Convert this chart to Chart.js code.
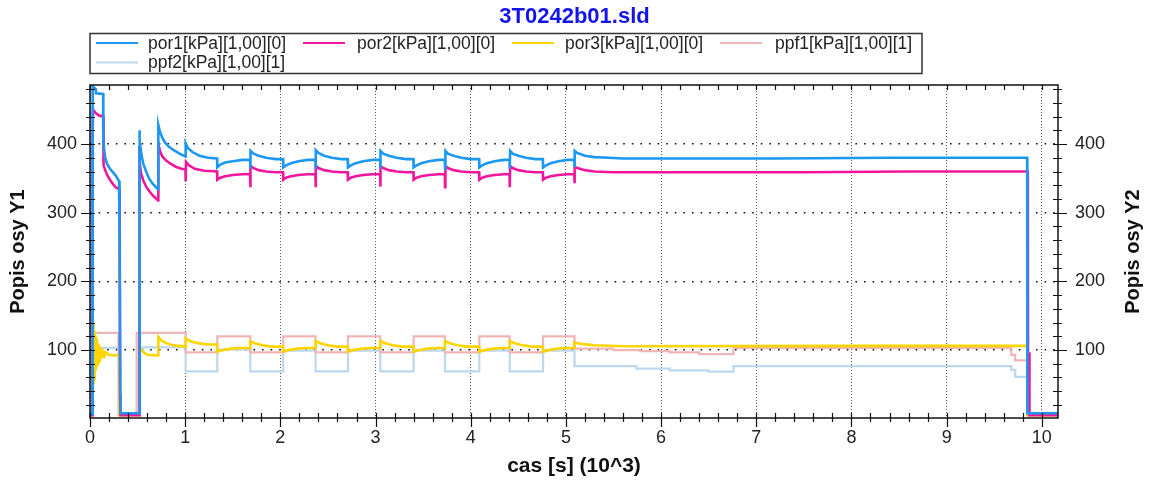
<!DOCTYPE html>
<html>
<head>
<meta charset="utf-8">
<title>3T0242b01.sld</title>
<script src="https://cdn.jsdelivr.net/npm/chart.js@4.4.1/dist/chart.umd.min.js"></script>
<style>
  html, body { margin: 0; padding: 0; background: #fff; }
  #wrap { width: 1149px; height: 482px; }
</style>
</head>
<body>
<div id="wrap"><canvas id="myChart" width="1149" height="482"></canvas></div>
<script>
// popisky
var chartTitle = '3T0242b01.sld';
var seriesNames = ['por1[kPa][1,00][0]', 'por2[kPa][1,00][0]', 'por3[kPa][1,00][0]', 'ppf1[kPa][1,00][1]', 'ppf2[kPa][1,00][1]'];
var seriesColors = ['#1c98f2', '#f2169e', '#ffd400', '#f0b6b6', '#bcd8ee'];
var xTitle = 'cas [s] (10^3)';
var y1Title = 'Popis osy Y1';
var y2Title = 'Popis osy Y2';
var xTicks = [0, 1, 2, 3, 4, 5, 6, 7, 8, 9, 10];
var yTicks = [100, 200, 300, 400];
var xRange = [0, 10.17];
var yRange = [1, 486];

// data: [cas, hodnota]
var por1 = [
  [0, 7], [0.027, 7], [0.028, 484], [0.06, 480], [0.062, 474], [0.138, 473], [0.14, 405], [0.148, 392], [0.16, 380], [0.18, 371], [0.21, 364], [0.24, 359], [0.27, 354], [0.305, 346], [0.31, 275], [0.32, 8], [0.516, 8],
  [0.518, 420], [0.525, 405], [0.54, 385], [0.56, 371], [0.59, 360], [0.62, 350], [0.66, 342], [0.716, 334],
  [0.718, 428], [0.735, 418], [0.76, 409], [0.79, 402], [0.83, 396], [0.88, 391], [0.94, 386], [1.003, 382],
  [1.005, 401], [1.03, 394], [1.08, 388], [1.15, 383], [1.24, 380], [1.335, 379],
  [1.337, 366], [1.37, 370], [1.42, 373], [1.5, 375], [1.6, 377], [1.682, 377],
  [1.684, 364], [1.688, 390], [1.72, 386], [1.77, 383], [1.85, 380], [1.95, 378], [2.028, 378],
  [2.03, 366], [2.06, 369], [2.11, 372], [2.19, 375], [2.29, 377], [2.368, 377],
  [2.37, 364], [2.374, 391], [2.4, 387], [2.46, 383], [2.54, 380], [2.64, 378], [2.708, 378],
  [2.71, 366], [2.74, 369], [2.79, 372], [2.87, 375], [2.97, 377], [3.048, 377],
  [3.05, 364], [3.054, 390], [3.08, 386], [3.14, 383], [3.22, 380], [3.32, 378], [3.398, 378],
  [3.4, 366], [3.43, 369], [3.48, 372], [3.56, 375], [3.66, 377], [3.728, 377],
  [3.73, 364], [3.734, 390], [3.76, 386], [3.82, 383], [3.9, 380], [4.0, 378], [4.088, 378],
  [4.09, 366], [4.12, 369], [4.17, 372], [4.25, 375], [4.35, 377], [4.408, 377],
  [4.41, 364], [4.414, 390], [4.44, 386], [4.5, 383], [4.58, 380], [4.68, 378], [4.758, 378],
  [4.76, 366], [4.79, 369], [4.84, 372], [4.92, 375], [5.02, 377], [5.088, 377],
  [5.09, 366], [5.094, 390], [5.12, 387], [5.2, 383], [5.3, 381], [5.45, 380], [5.6, 379], [7.2, 379], [8.4, 380], [9.846, 380], [9.848, 8], [10.17, 8]
];
var por2 = [
  [0, 5], [0.027, 5], [0.028, 418], [0.032, 450], [0.06, 445], [0.1, 441], [0.138, 441], [0.14, 382], [0.145, 369], [0.16, 362], [0.18, 355], [0.21, 348], [0.24, 342], [0.27, 337], [0.308, 334], [0.31, 272], [0.314, 272], [0.316, 36], [0.32, 36], [0.322, 5], [0.516, 5],
  [0.518, 398], [0.522, 376], [0.535, 358], [0.56, 347], [0.59, 338], [0.62, 332], [0.66, 325], [0.716, 318],
  [0.718, 401], [0.735, 390], [0.76, 382], [0.8, 376], [0.85, 371], [0.9, 367], [0.96, 364], [1.003, 363],
  [1.005, 346], [1.009, 374], [1.04, 369], [1.1, 364], [1.2, 361], [1.335, 360],
  [1.337, 348], [1.37, 351], [1.42, 353], [1.5, 355], [1.6, 356], [1.682, 356],
  [1.684, 337], [1.688, 368], [1.72, 365], [1.77, 362], [1.85, 360], [1.95, 359], [2.028, 359],
  [2.03, 348], [2.06, 351], [2.11, 353], [2.19, 355], [2.29, 356], [2.368, 356],
  [2.37, 337], [2.374, 368], [2.4, 365], [2.46, 362], [2.54, 360], [2.64, 359], [2.708, 359],
  [2.71, 348], [2.74, 351], [2.79, 353], [2.87, 355], [2.97, 356], [3.048, 356],
  [3.05, 338], [3.054, 368], [3.08, 365], [3.14, 362], [3.22, 360], [3.32, 359], [3.398, 359],
  [3.4, 348], [3.43, 351], [3.48, 353], [3.56, 355], [3.66, 356], [3.728, 356],
  [3.73, 337], [3.734, 368], [3.76, 365], [3.82, 362], [3.9, 360], [4.0, 359], [4.088, 359],
  [4.09, 348], [4.12, 351], [4.17, 353], [4.25, 355], [4.35, 356], [4.408, 356],
  [4.41, 337], [4.414, 368], [4.44, 365], [4.5, 362], [4.58, 360], [4.68, 359], [4.758, 359],
  [4.76, 348], [4.79, 351], [4.84, 353], [4.92, 355], [5.02, 356], [5.088, 356],
  [5.09, 343], [5.094, 367], [5.12, 365], [5.2, 362], [5.3, 360], [5.5, 359], [7.5, 359], [8.6, 360], [9.853, 360], [9.855, 95], [9.868, 95], [9.87, 5], [10.17, 5]
];
var por3 = [
  [0, 5], [0.024, 5], [0.025, 152], [0.028, 42], [0.032, 140], [0.036, 50], [0.04, 134], [0.044, 58], [0.048, 127], [0.052, 64], [0.056, 121], [0.06, 70], [0.064, 117], [0.068, 75],
  [0.073, 113], [0.078, 79], [0.083, 110], [0.088, 82], [0.093, 108], [0.098, 85], [0.104, 105], [0.11, 87], [0.116, 103], [0.122, 89], [0.13, 101], [0.138, 90], [0.146, 99], [0.155, 92],
  [0.17, 96], [0.2, 93], [0.25, 92], [0.308, 93], [0.31, 5], [0.518, 5],
  [0.52, 104], [0.56, 97], [0.6, 93], [0.716, 92],
  [0.718, 119], [0.75, 114], [0.8, 110], [0.87, 107], [1.003, 105],
  [1.005, 117], [1.05, 113], [1.13, 110], [1.24, 108], [1.335, 108],
  [1.337, 97.5], [1.4, 100], [1.49, 102], [1.59, 103], [1.682, 103],
  [1.684, 113], [1.73, 110], [1.81, 107], [1.91, 105], [2.028, 105],
  [2.03, 97.5], [2.09, 100], [2.18, 102], [2.28, 103], [2.368, 103],
  [2.37, 113], [2.42, 110], [2.5, 107], [2.6, 105], [2.708, 105],
  [2.71, 97.5], [2.77, 100], [2.86, 102], [2.96, 103], [3.048, 103],
  [3.05, 113], [3.1, 110], [3.18, 107], [3.28, 105], [3.398, 105],
  [3.4, 97.5], [3.46, 100], [3.55, 102], [3.65, 103], [3.728, 103],
  [3.73, 113], [3.78, 110], [3.86, 107], [3.96, 105], [4.088, 105],
  [4.09, 97.5], [4.15, 100], [4.24, 102], [4.34, 103], [4.408, 103],
  [4.41, 113], [4.46, 110], [4.54, 107], [4.64, 105], [4.758, 105],
  [4.76, 97.5], [4.82, 100], [4.91, 102], [5.01, 103], [5.088, 103],
  [5.09, 111], [5.16, 109], [5.3, 107], [5.6, 105.5], [8.0, 106], [9.846, 106], [9.848, 5], [10.17, 5]
];
// ppf1 a ppf2 jsou schodovite: hodnota plati od uvedeneho casu
var ppf1 = [
  [0, 6], [0.03, 125], [0.3, 6], [0.49, 125],
  [1.005, 96.5], [1.337, 120], [1.684, 96.5], [2.03, 120], [2.37, 96.5], [2.71, 120], [3.05, 96.5], [3.4, 120], [3.73, 96.5], [4.09, 120], [4.41, 96.5], [4.76, 120],
  [5.09, 102], [5.5, 100], [5.78, 98.5], [6.09, 96.5], [6.4, 94], [6.76, 103], [9.68, 93], [9.72, 85], [9.85, 6], [10.17, 6]
];
var ppf2 = [
  [0, 5], [0.03, 103], [0.31, 5], [0.52, 104],
  [1.005, 69], [1.337, 101], [1.684, 69], [2.03, 99], [2.37, 69], [2.71, 99], [3.05, 69], [3.4, 99], [3.73, 69], [4.09, 99], [4.41, 69], [4.76, 99],
  [5.09, 76.5], [5.74, 73], [6.09, 70.5], [6.5, 68.5], [6.76, 76.5], [9.68, 71], [9.72, 61], [9.85, 5], [10.17, 5]
];
var seriesData = [por1, por2, por3, ppf1, ppf2];
var seriesStepped = [false, false, false, true, true];

var FONT = '"Liberation Sans", Arial, sans-serif';

// ramecek, vedlejsi carky, legenda v ramecku a titulek prave osy
var frameAndLegend = {
  id: 'frameAndLegend',
  afterDraw: function (chart) {
    var ctx = chart.ctx;
    var a = chart.chartArea;
    var sx = chart.scales.x, sy = chart.scales.y;
    ctx.save();
    ctx.strokeStyle = '#111';
    ctx.lineWidth = 1.5;
    ctx.strokeRect(a.left, a.top, a.right - a.left, a.bottom - a.top);

    ctx.lineWidth = 1.2;
    ctx.beginPath();
    for (var t = 0; t <= xRange[1] + 1e-6; t += 0.2) {
      var major = Math.abs(t - Math.round(t)) < 1e-6;
      var px = Math.round(sx.getPixelForValue(t)) + 0.5;
      ctx.moveTo(px, a.bottom - 5); ctx.lineTo(px, a.bottom + (major ? 9 : 4));
      ctx.moveTo(px, a.top); ctx.lineTo(px, a.top + 5);
    }
    for (var v = 20; v <= yRange[1]; v += 20) {
      var majorY = v % 100 === 0;
      var py = Math.round(sy.getPixelForValue(v)) + 0.5;
      ctx.moveTo(a.left - (majorY ? 9 : 4), py); ctx.lineTo(a.left + 5, py);
      ctx.moveTo(a.right - 5, py); ctx.lineTo(a.right + (majorY ? 9 : 4), py);
    }
    ctx.stroke();

    // legenda
    var cols = [96, 303, 512, 720];
    var textX = [148, 357, 565, 775];
    var rows = [43, 62.5];
    ctx.strokeStyle = '#333';
    ctx.lineWidth = 1.5;
    ctx.strokeRect(90, 33.5, 832, 40);
    ctx.font = '17.5px ' + FONT;
    ctx.textBaseline = 'middle';
    ctx.textAlign = 'left';
    chart.data.datasets.forEach(function (ds, i) {
      var c = i % 4, r = Math.floor(i / 4);
      ctx.strokeStyle = ds.borderColor;
      ctx.lineWidth = 2;
      ctx.beginPath();
      ctx.moveTo(cols[c], rows[r]); ctx.lineTo(cols[c] + 42, rows[r]);
      ctx.stroke();
      ctx.fillStyle = '#222';
      ctx.fillText(ds.label, textX[c], rows[r] + 1);
    });

    // titulek prave osy (cte se zdola nahoru)
    ctx.save();
    ctx.translate(1133, (a.top + a.bottom) / 2);
    ctx.rotate(-Math.PI / 2);
    ctx.font = 'bold 20px ' + FONT;
    ctx.textAlign = 'center';
    ctx.fillStyle = '#111';
    ctx.fillText(y2Title, 0, 0);
    ctx.restore();
    ctx.restore();
  }
};

var ctx = document.getElementById('myChart').getContext('2d');
var chart = new Chart(ctx, {
  type: 'line',
  data: {
    datasets: seriesData.map(function (d, i) {
      return {
        label: seriesNames[i],
        data: d,
        borderColor: seriesColors[i],
        backgroundColor: seriesColors[i],
        borderWidth: i < 3 ? 2.6 : 2.2,
        pointRadius: 0,
        stepped: seriesStepped[i],
        tension: 0,
        fill: false
      };
    })
  },
  options: {
    responsive: false,
    animation: false,
    devicePixelRatio: 1,
    layout: { padding: 0 },
    plugins: {
      legend: { display: false },
      tooltip: { enabled: false },
      title: {
        display: true,
        text: chartTitle,
        color: '#1414e8',
        font: { family: FONT, size: 22, weight: 'bold' },
        padding: { top: 4, bottom: 54.6 }
      }
    },
    scales: {
      x: {
        type: 'linear',
        min: xRange[0],
        max: xRange[1],
        afterBuildTicks: function (s) { s.ticks = xTicks.map(function (v) { return { value: v }; }); },
        afterFit: function (s) { s.height = 64; },
        ticks: { color: '#222', font: { family: FONT, size: 18 }, padding: 9, maxRotation: 0, autoSkip: false },
        grid: { color: '#555', lineWidth: 1, drawTicks: false },
        border: { display: false, dash: [1, 2] },
        title: { display: true, text: xTitle, color: '#111', font: { family: FONT, size: 21, weight: 'bold' }, padding: { top: 0, bottom: 3 } }
      },
      y: {
        position: 'left',
        min: yRange[0],
        max: yRange[1],
        afterBuildTicks: function (s) { s.ticks = yTicks.map(function (v) { return { value: v }; }); },
        afterFit: function (s) { s.width = 90; },
        ticks: { color: '#222', font: { family: FONT, size: 18 }, padding: 13 },
        grid: { color: '#111', lineWidth: 1.6, drawTicks: false },
        border: { display: false, dash: [1.6, 7] },
        title: { display: true, text: y1Title, color: '#111', font: { family: FONT, size: 20, weight: 'bold' }, padding: { top: 6, bottom: 0 } }
      },
      y2: {
        position: 'right',
        min: yRange[0],
        max: yRange[1],
        afterBuildTicks: function (s) { s.ticks = yTicks.map(function (v) { return { value: v }; }); },
        afterFit: function (s) { s.width = 91; },
        ticks: { color: '#222', font: { family: FONT, size: 18 }, padding: 17 },
        grid: { display: false, drawTicks: false },
        border: { display: false }
      }
    }
  },
  plugins: [frameAndLegend]
});
</script>
</body>
</html>
